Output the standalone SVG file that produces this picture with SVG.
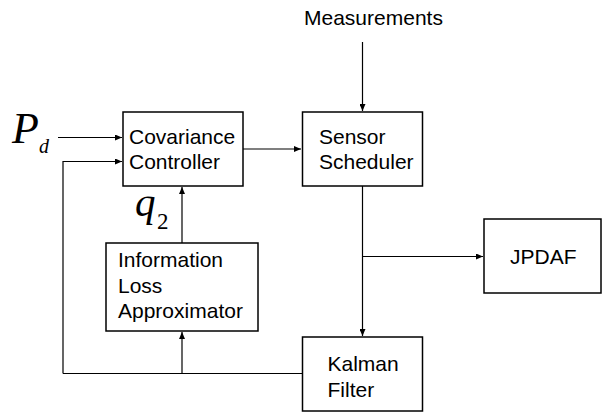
<svg xmlns="http://www.w3.org/2000/svg" width="603" height="412" viewBox="0 0 603 412">
<defs>
<marker id="ah" markerWidth="8" markerHeight="6" refX="7" refY="3" orient="auto" markerUnits="userSpaceOnUse">
<path d="M0,0 L7,3 L0,6 Z" fill="#000"/>
</marker>
<style>
.box{fill:#fff;stroke:#000;stroke-width:1.5}
.t{font-family:"Liberation Sans",Arial,sans-serif;font-size:21px;fill:#000}
.m{font-family:"Liberation Serif","Times New Roman",serif;fill:#000}
.c{fill:none;stroke:#000;stroke-width:1.2}
</style>
</defs>
<rect width="603" height="412" fill="#fff"/>
<g id="connectors">
<line class="c" x1="362.5" y1="42" x2="362.5" y2="111" marker-end="url(#ah)"/>
<line class="c" x1="58" y1="137.5" x2="122" y2="137.5" marker-end="url(#ah)"/>
<polyline class="c" points="63,373.5 63,161.5 122,161.5" marker-end="url(#ah)"/>
<line class="c" x1="243" y1="149" x2="301" y2="149" marker-end="url(#ah)"/>
<line class="c" x1="182" y1="243" x2="182" y2="187" marker-end="url(#ah)"/>
<line class="c" x1="63" y1="373.5" x2="302" y2="373.5"/>
<line class="c" x1="182" y1="373.5" x2="182" y2="332" marker-end="url(#ah)"/>
<line class="c" x1="362.5" y1="186" x2="362.5" y2="336" marker-end="url(#ah)"/>
<line class="c" x1="362.5" y1="256.5" x2="483" y2="256.5" marker-end="url(#ah)"/>
</g>
<g id="measurements"><text class="t" x="304" y="25">Measurements</text></g>
<g id="pd"><text class="m" x="12" y="143" font-size="44" font-style="italic">P</text><text class="m" x="39" y="153" font-size="20" font-style="italic">d</text></g>
<g id="q2"><text class="m" x="135" y="216" font-size="41" font-style="italic">q</text><text class="m" x="157" y="229" font-size="23">2</text></g>
<g id="covariance-controller">
<rect class="box" x="123" y="112" width="120" height="74"/>
<text class="t" x="129" y="144">Covariance</text>
<text class="t" x="129" y="168.5">Controller</text>
</g>
<g id="sensor-scheduler">
<rect class="box" x="302.5" y="112" width="120" height="74"/>
<text class="t" x="319" y="143.5">Sensor</text>
<text class="t" x="319" y="168.5">Scheduler</text>
</g>
<g id="information-loss-approximator">
<rect class="box" x="106" y="243" width="152" height="88"/>
<text class="t" x="118" y="267">Information</text>
<text class="t" x="118" y="292.5">Loss</text>
<text class="t" x="118" y="318">Approximator</text>
</g>
<g id="jpdaf">
<rect class="box" x="484" y="219" width="117" height="74"/>
<text class="t" x="510" y="264">JPDAF</text>
</g>
<g id="kalman-filter">
<rect class="box" x="302.5" y="337" width="120" height="74"/>
<text class="t" x="327.5" y="371">Kalman</text>
<text class="t" x="327.5" y="396.5">Filter</text>
</g>
</svg>
